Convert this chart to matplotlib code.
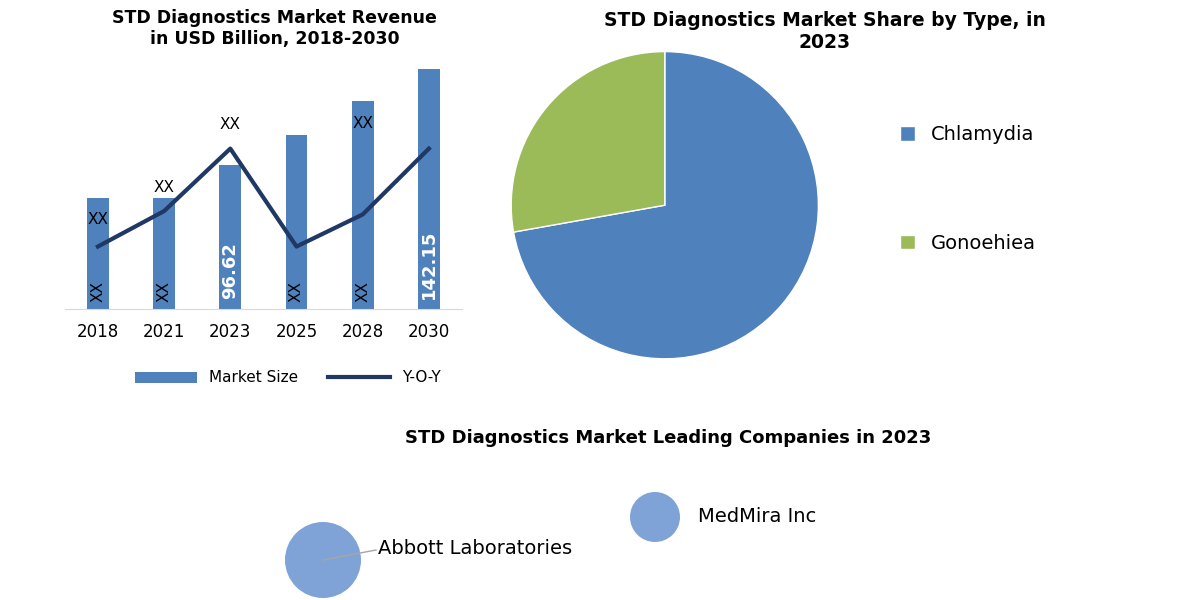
import matplotlib.pyplot as plt
from matplotlib.patches import Circle

years = ["2018", "2021", "2023", "2025", "2028", "2030"]
market_size = [66, 66, 85, 103, 123, 142.15]
yoy = [37, 58, 95, 37, 56, 95]
bar_labels = ["XX", "XX", "96.62", "XX", "XX", "142.15"]
yoy_labels = ["XX", "XX", "XX", "", "XX", ""]

types = ["Chlamydia", "Gonoehiea"]
shares = [72.2, 27.8]

companies = ["Abbott Laboratories", "MedMira Inc"]

BLUE = "#4f81bd"
GREEN = "#9bbb59"
NAVY = "#1f3864"

fig = plt.figure(figsize=(12, 6), dpi=100)

# bar + line chart
ax = fig.add_axes([0.054, 0.485, 0.331, 0.40])
x = range(len(years))
ax.bar(x, market_size, width=0.33, color=BLUE, label="Market Size")
ax.set_ylim(0, 142.15)
ax.set_xlim(-0.5, 5.5)
ax2 = ax.twinx()
ax2.plot(x, yoy, color=NAVY, lw=3, label="Y-O-Y")
ax2.set_ylim(0, 142.15)
for a in (ax, ax2):
    a.set_yticks([])
    for s in ["top", "right", "left"]:
        a.spines[s].set_visible(False)
ax.spines["bottom"].set_color("#d9d9d9")
ax2.spines["bottom"].set_visible(False)
ax.set_xticks(list(x))
ax.set_xticklabels(years, fontsize=12)
ax.tick_params(axis="x", length=0, pad=10)
for i, lab in enumerate(bar_labels):
    white = "." in lab
    ax.text(i, 4 if not white else 6, lab, rotation=90, ha="center", va="bottom",
            color="white" if white else "black",
            fontsize=13 if white else 11, fontweight="bold" if white else "normal")
for i, lab in enumerate(yoy_labels):
    if lab:
        ax2.text(i, yoy[i] + 14 if i in (1, 2) else market_size[i] - 13, lab,
                 ha="center", va="center", fontsize=11)
h1, l1 = ax.get_legend_handles_labels()
h2, l2 = ax2.get_legend_handles_labels()
fig.legend(h1 + h2, l1 + l2, loc="center", bbox_to_anchor=(0.24, 0.37),
           ncol=2, frameon=False, fontsize=11, handlelength=4, columnspacing=2)
fig.text(0.229, 0.952, "STD Diagnostics Market Revenue\nin USD Billion, 2018-2030",
         ha="center", va="center", fontsize=12.5, fontweight="bold")

# pie chart
axp = fig.add_axes([0.394, 0.338, 0.32, 0.64])
wedges, _ = axp.pie(shares, colors=[BLUE, GREEN], startangle=90, counterclock=False,
                    wedgeprops=dict(edgecolor="white", linewidth=1))
axp.set_aspect("equal")
fig.text(0.6875, 0.948, "STD Diagnostics Market Share by Type, in\n2023",
         ha="center", va="center", fontsize=13.5, fontweight="bold")
fig.legend(wedges, types, loc="center left", bbox_to_anchor=(0.735, 0.685),
           frameon=False, fontsize=14, handlelength=0.8, handleheight=0.8,
           labelspacing=4.6)

# leading companies
fig.text(0.557, 0.27, "STD Diagnostics Market Leading Companies in 2023",
         ha="center", va="center", fontsize=13, fontweight="bold")
axb = fig.add_axes([0, 0, 1, 1], facecolor="none")
axb.set_xlim(0, 1200)
axb.set_ylim(600, 0)
axb.axis("off")
bubbles = [(323, 560, 38), (655, 517, 25)]
for (cx, cy, r), name in zip(bubbles, companies):
    axb.add_patch(Circle((cx, cy), r, color="#7fa3d6", ec="none"))
for (cx, cy, r), name in zip(bubbles, companies):
    if r > 30:
        axb.plot([cx, 376], [cy, 550], color="#a6a6a6", lw=1)
        axb.text(378, 549, name, fontsize=14, va="center")
    else:
        axb.text(cx + r + 18, cy, name, fontsize=14, va="center")

fig.savefig("out.png")
